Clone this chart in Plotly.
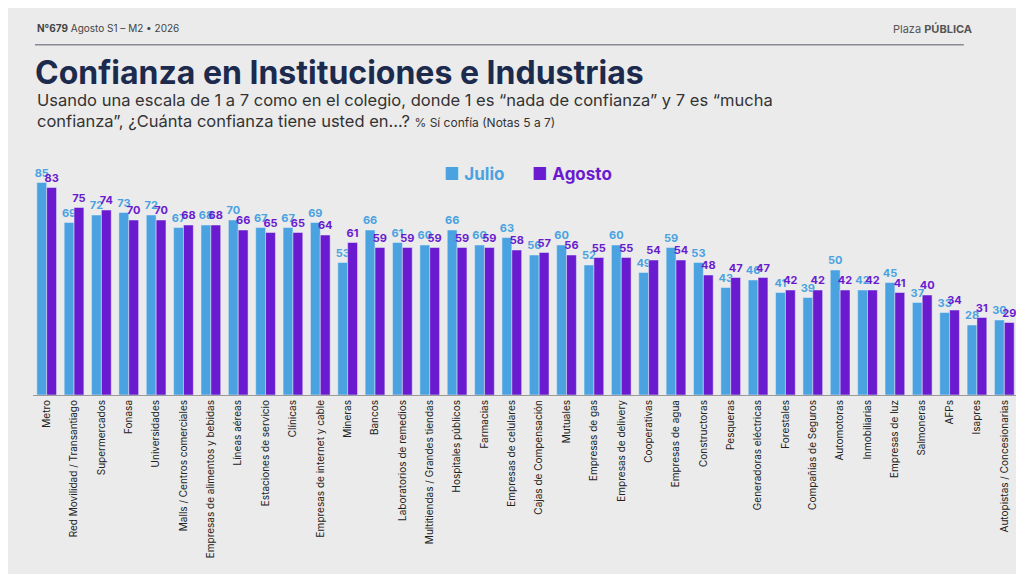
import plotly.graph_objects as go

categorias = ["Metro", "Red Movilidad / Transantiago", "Supermercados", "Fonasa", "Universidades",
              "Malls / Centros comerciales", "Empresas de alimentos y bebidas", "Líneas aéreas",
              "Estaciones de servicio", "Clínicas", "Empresas de internet y cable", "Mineras", "Bancos",
              "Laboratorios de remedios", "Multitiendas / Grandes tiendas", "Hospitales públicos",
              "Farmacias", "Empresas de celulares", "Cajas de Compensación", "Mutuales",
              "Empresas de gas", "Empresas de delivery", "Cooperativas", "Empresas de agua",
              "Constructoras", "Pesqueras", "Generadoras eléctricas", "Forestales",
              "Compañías de Seguros", "Automotoras", "Inmobiliarias", "Empresas de luz",
              "Salmoneras", "AFPs", "Isapres", "Autopistas / Concesionarias"]
julio = [85, 69, 72, 73, 72, 67, 68, 70, 67, 67, 69, 53, 66, 61, 60, 66, 60, 63, 56, 60,
         52, 60, 49, 59, 53, 43, 46, 41, 39, 50, 42, 45, 37, 33, 28, 30]
agosto = [83, 75, 74, 70, 70, 68, 68, 66, 65, 65, 64, 61, 59, 59, 59, 59, 59, 58, 57, 56,
          55, 55, 54, 54, 48, 47, 47, 42, 42, 42, 42, 41, 40, 34, 31, 29]

c_jul = "#4aa3e0"
c_ago = "#6a1bcf"
navy = "#1c2a4d"

fig = go.Figure()
fig.add_trace(go.Bar(x=categorias, y=julio, name="Julio", marker_color=c_jul,
                     text=["<b>%d</b>" % v for v in julio], textposition="outside",
                     cliponaxis=False, constraintext="none",
                     textfont=dict(color=c_jul, size=11, family="Inter")))
fig.add_trace(go.Bar(x=categorias, y=agosto, name="Agosto", marker_color=c_ago,
                     text=["<b>%d</b>" % v for v in agosto], textposition="outside",
                     cliponaxis=False, constraintext="none",
                     textfont=dict(color=c_ago, size=11, family="Inter")))

fig.update_layout(
    width=1024, height=574,
    paper_bgcolor="#ebebeb", plot_bgcolor="#ebebeb",
    margin=dict(l=25, r=14, t=142, b=187),
    barmode="group", bargap=0.28, bargroupgap=0,
    showlegend=False,
    font=dict(family="Inter", color=navy),
    xaxis=dict(tickangle=-90, tickfont=dict(size=10, color="#222"), showline=True,
               linecolor="#999", linewidth=1, ticks=""),
    yaxis=dict(range=[0, 98], visible=False),
)

# cabecera (coordenadas relativas al área del gráfico)
fig.add_annotation(x=0.002, y=1.53, xref="paper", yref="paper", xanchor="left", showarrow=False,
                   text="<b>N°679</b> Agosto S1 – M2 • 2026", font=dict(size=10, color="#444"))
fig.add_shape(type="line", xref="paper", yref="paper", x0=0.002, x1=0.945, y0=1.43, y1=1.43,
              line=dict(color="#8a8a95", width=1.5))
fig.add_annotation(x=0.955, y=1.53, xref="paper", yref="paper", xanchor="right", showarrow=False,
                   text="Plaza <b>PÚBLICA</b>", font=dict(size=11, color="#555"))
fig.add_annotation(x=0.0, y=1.405, xref="paper", yref="paper", xanchor="left", showarrow=False,
                   text="<b>Confianza en Instituciones e Industrias</b>",
                   font=dict(size=32, color=navy))
fig.add_annotation(x=0.002, y=1.16, xref="paper", yref="paper", xanchor="left", yanchor="middle",
                   showarrow=False, align="left",
                   text="Usando una escala de 1 a 7 como en el colegio, donde 1 es “nada de confianza” y 7 es “mucha<br>"
                        "confianza”, ¿Cuánta confianza tiene usted en...? <span style='font-size:12px'>% Sí confía (Notas 5 a 7)</span>",
                   font=dict(size=16.5, color="#333"))

# leyenda
fig.add_annotation(x=0.415, y=0.95, xref="paper", yref="paper", xanchor="left", showarrow=False,
                   text="■ <b>Julio</b>", font=dict(size=17, color=c_jul))
fig.add_annotation(x=0.505, y=0.95, xref="paper", yref="paper", xanchor="left", showarrow=False,
                   text="■ <b>Agosto</b>", font=dict(size=17, color=c_ago))

fig.write_html("out.html")
